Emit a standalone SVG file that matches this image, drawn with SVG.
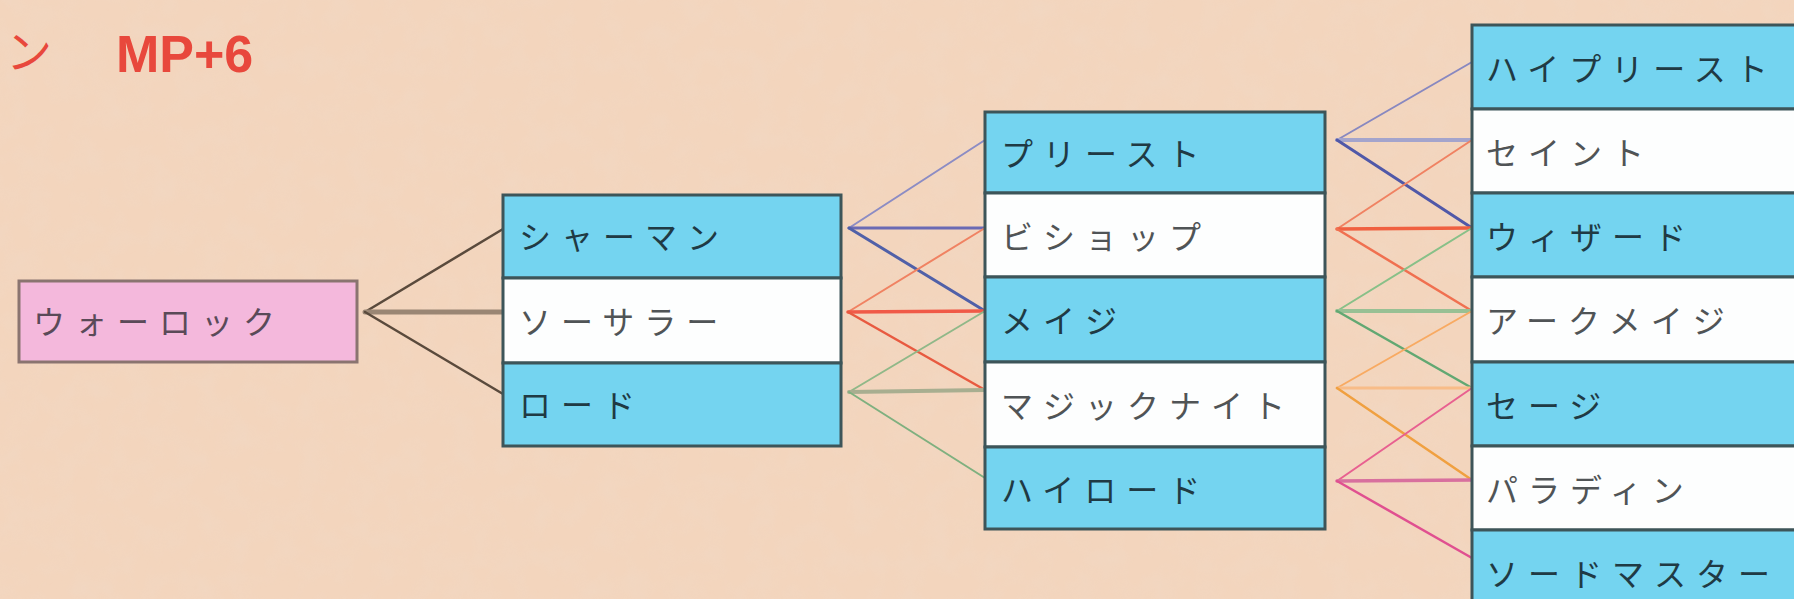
<svg xmlns="http://www.w3.org/2000/svg" width="1794" height="599" viewBox="0 0 1794 599">
<defs>
<style>
.bg{fill:#f3d5bd}
.cy{fill:#74d4f0;stroke:#3d5559;stroke-width:3}
.wh{fill:#fdfefe;stroke:#3d5559;stroke-width:3}
.pk{fill:#f4b8dc;stroke:#8a7470;stroke-width:3}
.t{font-family:"Noto Sans CJK JP","Noto Sans CJK SC",sans-serif;font-size:32px;letter-spacing:10px;dominant-baseline:central}
.td{fill:#203a44}
.tg{fill:#505456}
.tp{fill:#5a4a58}
.hd{fill:#e8483c}
line{stroke-linecap:round;fill:none}
</style>
<filter id="paper" x="0" y="0" width="100%" height="100%">
<feTurbulence type="fractalNoise" baseFrequency="0.04" numOctaves="3" seed="7" result="n"/>
<feColorMatrix type="matrix" values="0 0 0 0 0.85  0 0 0 0 0.72  0 0 0 0 0.62  0 0 0 1.2 -0.45"/>
</filter>
</defs>
<rect class="bg" x="0" y="0" width="1794" height="599"/>
<rect x="0" y="0" width="1794" height="599" filter="url(#paper)" opacity="0.35"/>

<g id="header">
<text class="hd" x="6" y="48" font-family="'Noto Sans CJK JP',sans-serif" font-size="46" dominant-baseline="central">ン</text>
<text class="hd" x="116" y="72" font-family="'Liberation Sans',Arial,sans-serif" font-size="52" font-weight="bold">MP+6</text>
</g>

<g id="connectors">
<!-- Warlock fan -->
<line x1="365" y1="312" x2="503" y2="229" stroke="#5a4a3c" stroke-width="2.5"/>
<line x1="365" y1="312" x2="503" y2="312" stroke="#9a8674" stroke-width="5"/>
<line x1="365" y1="312" x2="503" y2="394" stroke="#5a4a3c" stroke-width="2.5"/>
<!-- Shaman fan -->
<line x1="849" y1="228" x2="985" y2="140" stroke="#8c8cc4" stroke-width="2"/>
<line x1="849" y1="228" x2="985" y2="228" stroke="#6a6ab4" stroke-width="3"/>
<line x1="849" y1="228" x2="985" y2="311" stroke="#5060a8" stroke-width="3"/>
<!-- Sorcerer fan -->
<line x1="848" y1="312" x2="985" y2="228" stroke="#f08262" stroke-width="2"/>
<line x1="848" y1="312" x2="985" y2="311" stroke="#f05a48" stroke-width="3.5"/>
<line x1="848" y1="312" x2="985" y2="390" stroke="#e85a40" stroke-width="2.5"/>
<!-- Lord fan -->
<line x1="849" y1="392" x2="985" y2="311" stroke="#90b888" stroke-width="2"/>
<line x1="849" y1="392" x2="985" y2="390" stroke="#a8ae90" stroke-width="4"/>
<line x1="849" y1="392" x2="985" y2="478" stroke="#7fb07f" stroke-width="2"/>
<!-- Priest fan -->
<line x1="1337" y1="140" x2="1472" y2="62" stroke="#8888c0" stroke-width="2"/>
<line x1="1337" y1="140" x2="1472" y2="140" stroke="#a4a4cc" stroke-width="4"/>
<line x1="1337" y1="140" x2="1472" y2="228" stroke="#5058a8" stroke-width="3"/>
<!-- Bishop fan -->
<line x1="1337" y1="229" x2="1472" y2="140" stroke="#f08262" stroke-width="2"/>
<line x1="1337" y1="229" x2="1472" y2="228" stroke="#f06040" stroke-width="3.5"/>
<line x1="1337" y1="229" x2="1472" y2="311" stroke="#f07050" stroke-width="2.5"/>
<!-- Mage fan -->
<line x1="1337" y1="311" x2="1472" y2="228" stroke="#88c088" stroke-width="2"/>
<line x1="1337" y1="311" x2="1472" y2="311" stroke="#98c094" stroke-width="4"/>
<line x1="1337" y1="311" x2="1472" y2="388" stroke="#62a872" stroke-width="2.5"/>
<!-- Magic Knight fan -->
<line x1="1337" y1="388" x2="1472" y2="311" stroke="#f8aa62" stroke-width="2"/>
<line x1="1337" y1="388" x2="1472" y2="388" stroke="#f8bc88" stroke-width="3"/>
<line x1="1337" y1="388" x2="1472" y2="480" stroke="#f0a040" stroke-width="2.5"/>
<!-- High Lord fan -->
<line x1="1337" y1="481" x2="1472" y2="388" stroke="#e86090" stroke-width="2"/>
<line x1="1337" y1="481" x2="1472" y2="480" stroke="#d8709e" stroke-width="3.5"/>
<line x1="1337" y1="481" x2="1472" y2="558" stroke="#e05090" stroke-width="2.5"/>
</g>

<g id="warlock"><rect class="pk" x="19" y="281" width="338" height="81"/><text class="t tp" x="33" y="320">ウォーロック</text></g>

<g id="shaman"><rect class="cy" x="503" y="195" width="338" height="83"/><text class="t td" x="519" y="235">シャーマン</text></g>
<g id="sorcerer"><rect class="wh" x="503" y="278" width="338" height="85"/><text class="t tg" x="519" y="320">ソーサラー</text></g>
<g id="lord"><rect class="cy" x="503" y="363" width="338" height="83"/><text class="t td" x="519" y="403">ロード</text></g>

<g id="priest"><rect class="cy" x="985" y="112" width="340" height="81"/><text class="t td" x="1001" y="152">プリースト</text></g>
<g id="bishop"><rect class="wh" x="985" y="193" width="340" height="84"/><text class="t tg" x="1001" y="235">ビショップ</text></g>
<g id="mage"><rect class="cy" x="985" y="277" width="340" height="85"/><text class="t td" x="1001" y="319">メイジ</text></g>
<g id="magic-knight"><rect class="wh" x="985" y="362" width="340" height="85"/><text class="t tg" x="1001" y="404">マジックナイト</text></g>
<g id="high-lord"><rect class="cy" x="985" y="447" width="340" height="82"/><text class="t td" x="1001" y="488">ハイロード</text></g>

<g id="high-priest"><rect class="cy" x="1472" y="25" width="340" height="84"/><text class="t td" x="1486" y="67">ハイプリースト</text></g>
<g id="saint"><rect class="wh" x="1472" y="109" width="340" height="84"/><text class="t tg" x="1486" y="151">セイント</text></g>
<g id="wizard"><rect class="cy" x="1472" y="193" width="340" height="84"/><text class="t td" x="1486" y="235">ウィザード</text></g>
<g id="archmage"><rect class="wh" x="1472" y="277" width="340" height="85"/><text class="t tg" x="1486" y="319">アークメイジ</text></g>
<g id="sage"><rect class="cy" x="1472" y="362" width="340" height="84"/><text class="t td" x="1486" y="404">セージ</text></g>
<g id="paladin"><rect class="wh" x="1472" y="446" width="340" height="84"/><text class="t tg" x="1486" y="488">パラディン</text></g>
<g id="swordmaster"><rect class="cy" x="1472" y="530" width="340" height="84"/><text class="t td" x="1486" y="572">ソードマスター</text></g>
</svg>
